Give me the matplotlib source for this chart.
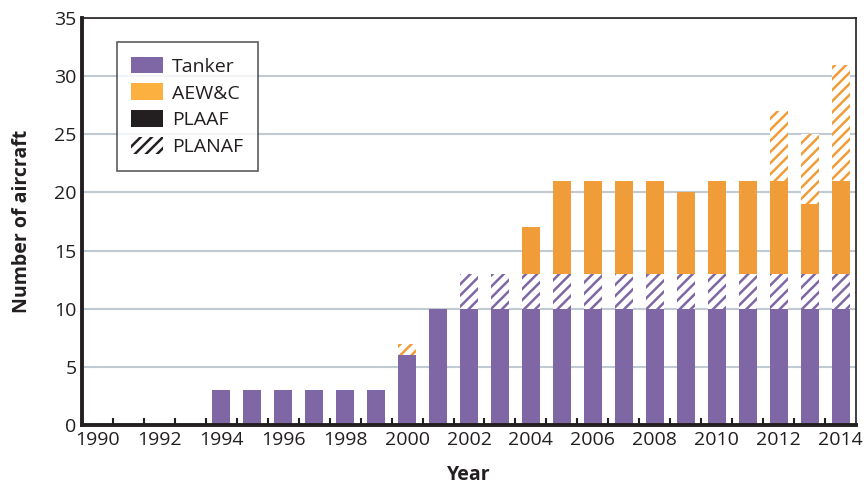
import numpy as np
import matplotlib.pyplot as plt
from matplotlib.patches import Patch

plt.rcParams['font.family'] = ['Open Sans', 'DejaVu Sans']
plt.rcParams['hatch.linewidth'] = 1.8

years = list(range(1990, 2015))
tanker_plaaf = [0, 0, 0, 0, 3, 3, 3, 3, 3, 3, 6, 10, 10, 10, 10, 10, 10, 10, 10, 10, 10, 10, 10, 10, 10]
tanker_planaf = [0, 0, 0, 0, 0, 0, 0, 0, 0, 0, 0, 0, 3, 3, 3, 3, 3, 3, 3, 3, 3, 3, 3, 3, 3]
aewc_plaaf = [0, 0, 0, 0, 0, 0, 0, 0, 0, 0, 0, 0, 0, 0, 4, 8, 8, 8, 8, 7, 8, 8, 8, 6, 8]
aewc_planaf = [0, 0, 0, 0, 0, 0, 0, 0, 0, 0, 1, 0, 0, 0, 0, 0, 0, 0, 0, 0, 0, 0, 6, 6, 10]

PURPLE = '#7F66A4'
ORANGE = '#F09C38'
ORANGE_LEG = '#FBB040'
DARK = '#231F20'
FS = 14

x = np.arange(len(years))
w = 0.58

fig = plt.figure(figsize=(8.65, 4.87), dpi=100)
ax = fig.add_axes([0.0948, 0.1273, 0.8948, 0.8357])

ax.yaxis.grid(True, color='#BFCAD2', linewidth=1.5, zorder=0)
ax.set_axisbelow(True)

b1 = np.array(tanker_plaaf, dtype=float)
b2 = b1 + np.array(tanker_planaf)
b3 = b2 + np.array(aewc_plaaf)

ax.bar(x, tanker_plaaf, w, color=PURPLE, linewidth=0, zorder=2)
ax.bar(x, tanker_planaf, w, bottom=b1, facecolor='white', edgecolor=PURPLE,
       hatch='///', linewidth=0, zorder=2)
ax.bar(x, aewc_plaaf, w, bottom=b2, color=ORANGE, linewidth=0, zorder=2)
ax.bar(x, aewc_planaf, w, bottom=b3, facecolor='white', edgecolor=ORANGE,
       hatch='///', linewidth=0, zorder=2)

ax.set_xlim(-0.5, len(years) - 0.5)
ax.set_ylim(0, 35)
ax.set_yticks(range(0, 36, 5))
ax.set_xticks(x[::2])
ax.set_xticklabels([str(y) for y in years[::2]])
ax.set_xticks(np.arange(0.5, len(years) - 1, 1), minor=True)
ax.tick_params(axis='both', which='major', length=0, labelsize=FS, colors=DARK, pad=4)
ax.tick_params(axis='x', which='minor', direction='in', length=5, width=1.5, color=DARK)

for s in ['left', 'bottom']:
    ax.spines[s].set_linewidth(2.8)
    ax.spines[s].set_color(DARK)
for s in ['top', 'right']:
    ax.spines[s].set_linewidth(1.2)
    ax.spines[s].set_color(DARK)

ax.set_xlabel('Year', fontsize=FS, fontweight='bold', color=DARK, labelpad=12)
ax.set_ylabel('Number of aircraft', fontsize=FS, fontweight='bold', color=DARK, labelpad=16)

handles = [
    Patch(facecolor=PURPLE, edgecolor='none', label='Tanker'),
    Patch(facecolor=ORANGE_LEG, edgecolor='none', label='AEW&C'),
    Patch(facecolor=DARK, edgecolor='none', label='PLAAF'),
    Patch(facecolor='white', edgecolor=DARK, hatch='///', linewidth=0, label='PLANAF'),
]
leg = ax.legend(handles=handles, loc='upper left', bbox_to_anchor=(0.045, 0.941),
                borderaxespad=0, fontsize=FS, frameon=True, fancybox=False, borderpad=0.75,
                handlelength=1.65, handleheight=0.95, handletextpad=0.45, labelspacing=0.4)
leg.get_frame().set_edgecolor('#333333')
leg.get_frame().set_linewidth(1.2)
for t in leg.get_texts():
    t.set_color(DARK)

fig.savefig('out.png', dpi=100)
